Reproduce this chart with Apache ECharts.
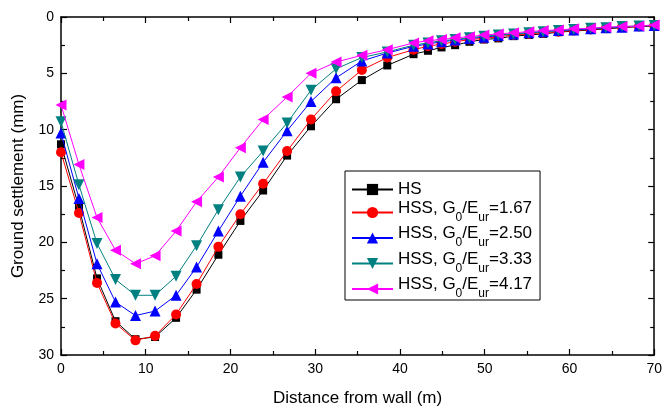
<!DOCTYPE html>
<html>
<head>
<meta charset="utf-8">
<script src="https://cdn.jsdelivr.net/npm/echarts@6/dist/echarts.min.js"></script>
<style>html,body{margin:0;padding:0;background:#fff}#c{width:665px;height:412px}</style>
</head>
<body>
<div id="c"></div>
<script>
// Distance from wall (m)
var distance = [0, 2.12, 4.25, 6.43, 8.79, 11.1, 13.58, 16.0, 18.57, 21.17, 23.85, 26.68, 29.5, 32.46, 35.5, 38.5,
  41.6, 43.3, 44.9, 46.5, 48.2, 49.9, 51.6, 53.4, 55.2, 56.9, 58.7, 60.5, 62.5, 64.3, 66.2, 68.2, 70.0];
// Ground settlement (mm)
var hs = [11.3, 16.9, 23.2, 27.0, 28.6, 28.4, 26.7, 24.2, 21.1, 18.1, 15.4, 12.3, 9.7, 7.3, 5.6, 4.3,
  3.3, 3.0, 2.7, 2.5, 2.2, 2.0, 1.9, 1.7, 1.6, 1.5, 1.35, 1.25, 1.15, 1.05, 0.95, 0.85, 0.8];
var hss167 = [12.0, 17.4, 23.6, 27.2, 28.7, 28.3, 26.4, 23.7, 20.4, 17.5, 14.8, 11.9, 9.1, 6.6, 4.7, 3.6,
  2.9, 2.6, 2.4, 2.2, 2.0, 1.9, 1.75, 1.6, 1.5, 1.4, 1.3, 1.2, 1.1, 1.0, 0.9, 0.85, 0.75];
var hss250 = [10.3, 16.1, 21.9, 25.3, 26.5, 26.1, 24.7, 22.2, 19.0, 15.9, 12.9, 10.1, 7.5, 5.4, 3.9, 3.2,
  2.6, 2.4, 2.2, 2.05, 1.9, 1.8, 1.65, 1.5, 1.4, 1.3, 1.2, 1.15, 1.05, 0.95, 0.9, 0.8, 0.75];
var hss333 = [9.3, 14.9, 20.1, 23.3, 24.7, 24.7, 23.0, 20.3, 17.1, 14.2, 11.9, 9.4, 6.5, 4.6, 3.6, 3.1,
  2.5, 2.3, 2.1, 2.0, 1.85, 1.7, 1.6, 1.5, 1.4, 1.3, 1.2, 1.1, 1.0, 0.95, 0.85, 0.8, 0.75];
var hss417 = [7.8, 13.1, 17.8, 20.7, 21.9, 21.2, 19.0, 16.4, 14.2, 11.6, 9.1, 7.1, 5.0, 4.0, 3.4, 2.9,
  2.3, 2.1, 2.0, 1.85, 1.75, 1.6, 1.5, 1.4, 1.3, 1.2, 1.15, 1.05, 1.0, 0.9, 0.85, 0.8, 0.7];
var seriesNames = ['HS', 'HSS, G0/Eur=1.67', 'HSS, G0/Eur=2.50', 'HSS, G0/Eur=3.33', 'HSS, G0/Eur=4.17'];
var ratioLabels = ['', '1.67', '2.50', '3.33', '4.17'];
var xTicks = [0, 10, 20, 30, 40, 50, 60, 70];
var yTicks = [0, 5, 10, 15, 20, 25, 30];

var FONT = '"Liberation Sans", Arial, sans-serif';
function pairs(ys) { return distance.map(function (x, i) { return [x, ys[i]]; }); }
var values = [hs, hss167, hss250, hss333, hss417];
var colors = ['#000000', '#ff0000', '#0000ff', '#008080', '#ff00ff'];
var symbols = ['rect', 'circle', 'triangle', 'triangle', 'triangle'];
var sizes = [8, 10, 11, 11, 11];
var rotates = [0, 0, 0, 180, 90];

var series = values.map(function (v, i) {
  return {
    name: seriesNames[i], type: 'line', data: pairs(v),
    symbol: symbols[i], symbolSize: sizes[i], symbolRotate: rotates[i],
    itemStyle: { color: colors[i] },
    lineStyle: { color: colors[i], width: 1 },
    showAllSymbol: true, animation: false, z: 2 + i
  };
});

var axisCommon = {
  axisLine: { show: true, onZero: false, lineStyle: { color: '#000', width: 1.5 } },
  axisTick: { show: true, inside: true, length: 6, lineStyle: { color: '#000', width: 1.2 } },
  minorTick: { show: true, splitNumber: 2, length: 4, lineStyle: { color: '#000', width: 1.2 } },
  splitLine: { show: false }
};
function ax(extra) { return Object.assign({}, JSON.parse(JSON.stringify(axisCommon)), extra); }

var chart = echarts.init(document.getElementById('c'), null, { renderer: 'canvas' });
chart.setOption({
  backgroundColor: '#fff',
  animation: false,
  grid: { left: 61, right: 10, top: 17, bottom: 56, containLabel: false },
  xAxis: [
    ax({ type: 'value', position: 'bottom', min: xTicks[0], max: xTicks[xTicks.length - 1], interval: 10,
      name: 'Distance from wall (m)', nameLocation: 'middle', nameGap: 35,
      nameTextStyle: { fontFamily: FONT, fontSize: 17, color: '#000' },
      axisLabel: { fontFamily: FONT, fontSize: 14, color: '#000', margin: 7 } }),
    ax({ type: 'value', position: 'top', min: xTicks[0], max: xTicks[xTicks.length - 1], interval: 10,
      axisLabel: { show: false } })
  ],
  yAxis: [
    ax({ type: 'value', position: 'left', inverse: true, min: yTicks[0], max: yTicks[yTicks.length - 1], interval: 5,
      name: 'Ground settlement (mm)', nameLocation: 'middle', nameGap: 34,
      nameTextStyle: { fontFamily: FONT, fontSize: 17, color: '#000' },
      axisLabel: { fontFamily: FONT, fontSize: 14, color: '#000', margin: 7 } }),
    ax({ type: 'value', position: 'right', inverse: true, min: yTicks[0], max: yTicks[yTicks.length - 1], interval: 5,
      axisLabel: { show: false } })
  ],
  legend: {
    orient: 'vertical', left: 345, top: 171,
    data: seriesNames,
    backgroundColor: '#fff', borderColor: '#000', borderWidth: 1,
    padding: [10, 8, 0, 6], itemGap: 1.5, itemWidth: 41, itemHeight: 14,
    formatter: function (name) {
      var i = seriesNames.indexOf(name);
      if (i === 0) return '{h|HS}';
      return '{a|HSS, G}{s|0}{a|/E}{s|ur}{a|=' + ratioLabels[i] + '}';
    },
    textStyle: {
      fontFamily: FONT, fontSize: 17, color: '#000',
      rich: {
        h: { fontFamily: FONT, fontSize: 17, color: '#000', lineHeight: 14 },
        a: { fontFamily: FONT, fontSize: 17, color: '#000', lineHeight: 26, verticalAlign: 'top', padding: [0, 0, 0, 0] },
        s: { fontFamily: FONT, fontSize: 12, color: '#000', lineHeight: 11, verticalAlign: 'top', padding: [12, 0, 0, 0] }
      }
    }
  },
  series: series
});
</script>
</body>
</html>
